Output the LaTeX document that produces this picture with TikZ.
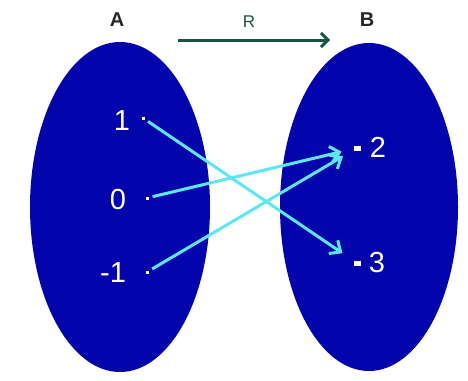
\documentclass[tikz,border=0pt]{standalone}
\usepackage{fontspec}
\setmainfont{Liberation Sans}
\usetikzlibrary{arrows.meta,positioning}
\definecolor{setblue}{RGB}{4,4,172}
\definecolor{mapcyan}{RGB}{95,230,245}
\definecolor{relgreen}{RGB}{25,85,65}

\begin{document}
\begin{tikzpicture}[x=1pt,y=-1pt,
  dot/.style={fill=white, inner sep=0pt, minimum width=3pt, minimum height=3pt},
  bdot/.style={fill=white, inner sep=0pt, minimum width=7pt, minimum height=5pt},
  elt/.style={text=white, font=\fontsize{29}{29}\selectfont, inner sep=0pt},
  setname/.style={text=black!85, font=\bfseries\fontsize{20}{20}\selectfont},
  map/.style={draw=mapcyan, line width=3pt, ->, >={Straight Barb[length=9pt,width=16pt]}}]
  \useasboundingbox (0,0) rectangle (468,380);

  % the two sets
  \fill[setblue] (120,207) ellipse [x radius=90, y radius=165];
  \fill[setblue] (369,207) ellipse [x radius=89, y radius=164];
  \node[setname] (setA) at (117,20) {A};
  \node[setname] (setB) at (367,20) {B};

  % relation arrow
  \coordinate (r0) at (178,40);
  \coordinate (r1) at (330,40);
  \draw[relgreen, line width=3pt, -{Straight Barb[length=7pt,width=14pt]}] (r0) -- (r1);
  \node[text=relgreen, font=\fontsize{17}{17}\selectfont] (rel) at (249,22) {R};

  % elements of A
  \node[elt] (l1) at (122,121) {1};
  \node[dot] (a1) at (143,118) {};
  \node[elt] (l0) at (118,200) {0};
  \node[dot] (a0) at (147,198) {};
  \node[elt] (lm1) at (113,273) {-1};
  \node[dot] (am1) at (147,272) {};

  % elements of B
  \node[bdot] (b2) at (357,148) {};
  \node[elt] (l2) at (378,147) {2};
  \node[bdot] (b3) at (357,263) {};
  \node[elt] (l3) at (377,263) {3};

  % mapping
  \draw[map, shorten <=4pt, shorten >=13pt] (a1) -- (b3);
  \draw[map, shorten <=4pt, shorten >=12pt] (a0) -- (b2);
  \draw[map, shorten <=4pt, shorten >=12pt] (am1) -- (b2);
\end{tikzpicture}
\end{document}
